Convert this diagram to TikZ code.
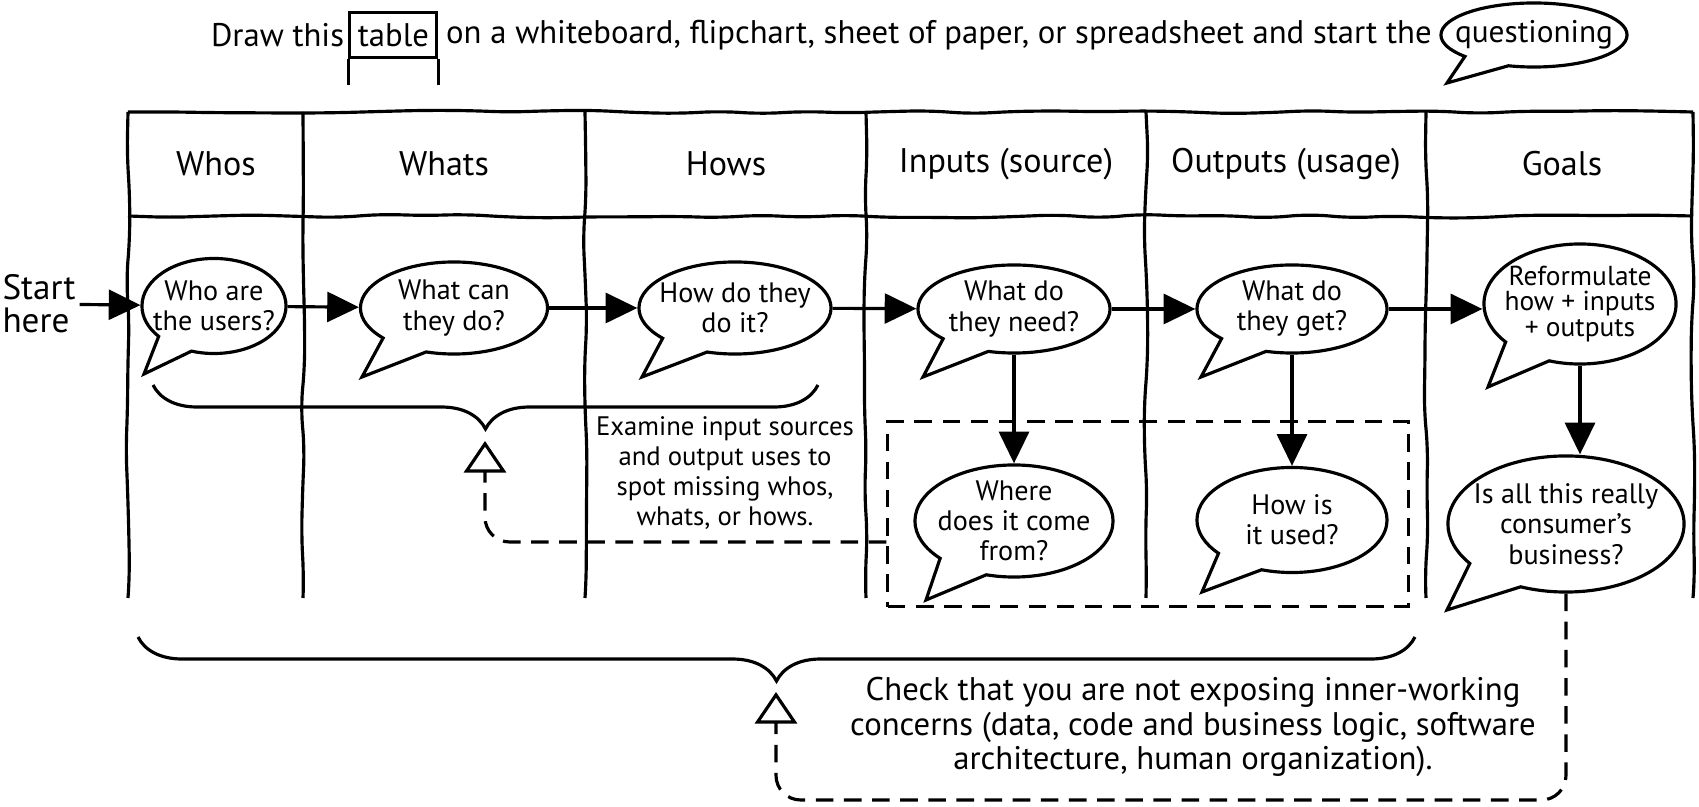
\documentclass[tikz,border=0pt]{standalone}
\usepackage{fontspec}
\setmainfont{PT Sans}
\usetikzlibrary{arrows.meta,positioning,shapes.callouts,decorations.pathmorphing,decorations.pathreplacing}

\begin{document}
\pgfmathsetseed{11}
\begin{tikzpicture}[x=0.01cm, y=-0.01cm,
  txt/.style={font=\fontsize{9.3}{9.7}\selectfont, inner sep=1pt},
  hd/.style={font=\fontsize{9.7}{10}\selectfont},
  bub/.style={ellipse callout, draw, line width=0.9pt, fill=white, align=center, inner xsep=-14pt, inner ysep=-14pt, callout pointer arc=32, font=\fontsize{8}{8.6}\selectfont},
  sketch/.style={line width=0.9pt, decorate, decoration={random steps, segment length=12pt, amplitude=0.6pt}, rounded corners=5pt},
  arr/.style={-{Triangle[length=9pt, width=8.5pt]}, line width=0.9pt},
  back/.style={-{Triangle[open, length=9pt, width=12pt]}, line width=0.9pt, dash pattern=on 5pt off 3pt, rounded corners=7pt},
  brc/.style={decorate, decoration={brace, mirror, amplitude=0.44cm}, line width=0.9pt}]
  \useasboundingbox (0,0) rectangle (1699,807);
  % ---------------- heading line
  \coordinate (qtip) at (1447,83);
  \node[bub, font=\fontsize{8.9}{9.7}\selectfont, minimum width=1.86cm, minimum height=0.64cm, callout absolute pointer={(qtip)}] (quest) at (1534,35) {questioning};
  \node[txt, left=1pt of quest] (outro) {on a whiteboard, flipchart, sheet of paper, or spreadsheet and start the};
  \node[txt, draw, line width=0.9pt, minimum width=0.87cm, minimum height=0.45cm, left=1pt of outro] (tblword) {table};
  \draw[line width=0.9pt] (tblword.south west) -- ++(0,26);
  \draw[line width=0.9pt] (tblword.south east) -- ++(0,26);
  \node[txt, left=0pt of tblword] (intro) {Draw this};
  % ---------------- table
  \draw[sketch] (128,112) -- (1693,112);
  \draw[sketch] (128,216) -- (1693,216);
  \foreach \x in {128,303,585,866,1146,1426,1693}
    \draw[sketch] (\x,112) -- (\x,598);
  \foreach \x/\t/\n in {216/Whos/who, 444/Whats/what, 726/Hows/how, 1006/{Inputs (source)}/inp, 1286/{Outputs (usage)}/outp, 1562/Goals/goal}
    \node[hd] (h\n) at (\x,164) {\t};
  % ---------------- questions
  \coordinate (t1) at (144,374);
  \coordinate (t2) at (362,377);
  \coordinate (t3) at (642,377);
  \coordinate (t4) at (923,377);
  \coordinate (t5) at (1201,377);
  \coordinate (t6) at (1488,387);
  \coordinate (t7) at (926,600);
  \coordinate (t8) at (1202,592);
  \coordinate (t9) at (1447,610);
  \node[bub, minimum width=1.44cm, minimum height=0.95cm, callout absolute pointer={(t1)}] (qwho) at (214,306) {Who are\\the users?};
  \node[bub, minimum width=1.87cm, minimum height=0.92cm, callout absolute pointer={(t2)}] (qwhat) at (454,308) {What can\\they do?};
  \node[bub, minimum width=1.92cm, minimum height=0.92cm, callout absolute pointer={(t3)}] (qhow) at (735,308) {How do they\\do it?};
  \node[bub, minimum width=1.92cm, minimum height=0.88cm, callout absolute pointer={(t4)}] (qneed) at (1014,309) {What do\\they need?};
  \node[bub, minimum width=1.90cm, minimum height=0.88cm, callout absolute pointer={(t5)}] (qget) at (1292,309) {What do\\they get?};
  \node[bub, minimum width=1.92cm, minimum height=1.20cm, font=\fontsize{7.8}{7.3}\selectfont, callout absolute pointer={(t6)}] (qform) at (1580,304) {Reformulate\\how + inputs\\+ outputs};
  \node[bub, minimum width=1.98cm, minimum height=1.12cm, callout absolute pointer={(t7)}] (qfrom) at (1014,521) {Where\\does it come\\from?};
  \node[bub, minimum width=1.90cm, minimum height=1.05cm, callout absolute pointer={(t8)}] (qused) at (1292,520) {How is\\it used?};
  \node[bub, minimum width=2.36cm, minimum height=1.36cm, callout absolute pointer={(t9)}] (qbiz) at (1566,524) {Is all this really\\consumer's\\business?};
  \node[txt, font=\fontsize{10}{9.4}\selectfont, align=left] (start) at (39,304) {Start\\here};
  \draw[arr] (start) -- (qwho);
  \draw[arr] (qwho) -- (qwhat);
  \draw[arr] (qwhat) -- (qhow);
  \draw[arr] (qhow) -- (qneed);
  \draw[arr] (qneed) -- (qget);
  \draw[arr] (qget) -- (qget -| qform.west);
  \draw[arr] (qneed) -- (qfrom);
  \draw[arr] (qget) -- (qused);
  \draw[arr] (qform.south) -- (qform.south |- qbiz.north);
  % ---------------- checks
  \node[draw, line width=0.9pt, dash pattern=on 5pt off 3pt, minimum width=5.2cm, minimum height=1.85cm] (ioframe) at (1148,514) {};
  \draw[brc] (153,385) -- (818,385);
  \draw[brc] (138,637) -- (1415,637);
  \coordinate (br1tip) at (485,441);
  \coordinate (br1turn) at (485,542);
  \coordinate (br2tip) at (776,692);
  \coordinate (br2turn) at (776,800);
  \draw[back] (ioframe.west |- br1turn) -- (br1turn) -- (br1tip);
  \draw[back] (qbiz.south) -- (qbiz.south |- br2turn) -- (br2turn) -- (br2tip);
  \node[txt, font=\fontsize{7.6}{8.5}\selectfont, align=center] (exam) at (725,473) {Examine input sources\\and output uses to\\spot missing whos,\\whats, or hows.};
  \node[txt, align=center] (chk) at (1193,727) {Check that you are not exposing inner-working\\concerns (data, code and business logic, software\\architecture, human organization).};
\end{tikzpicture}
\end{document}
